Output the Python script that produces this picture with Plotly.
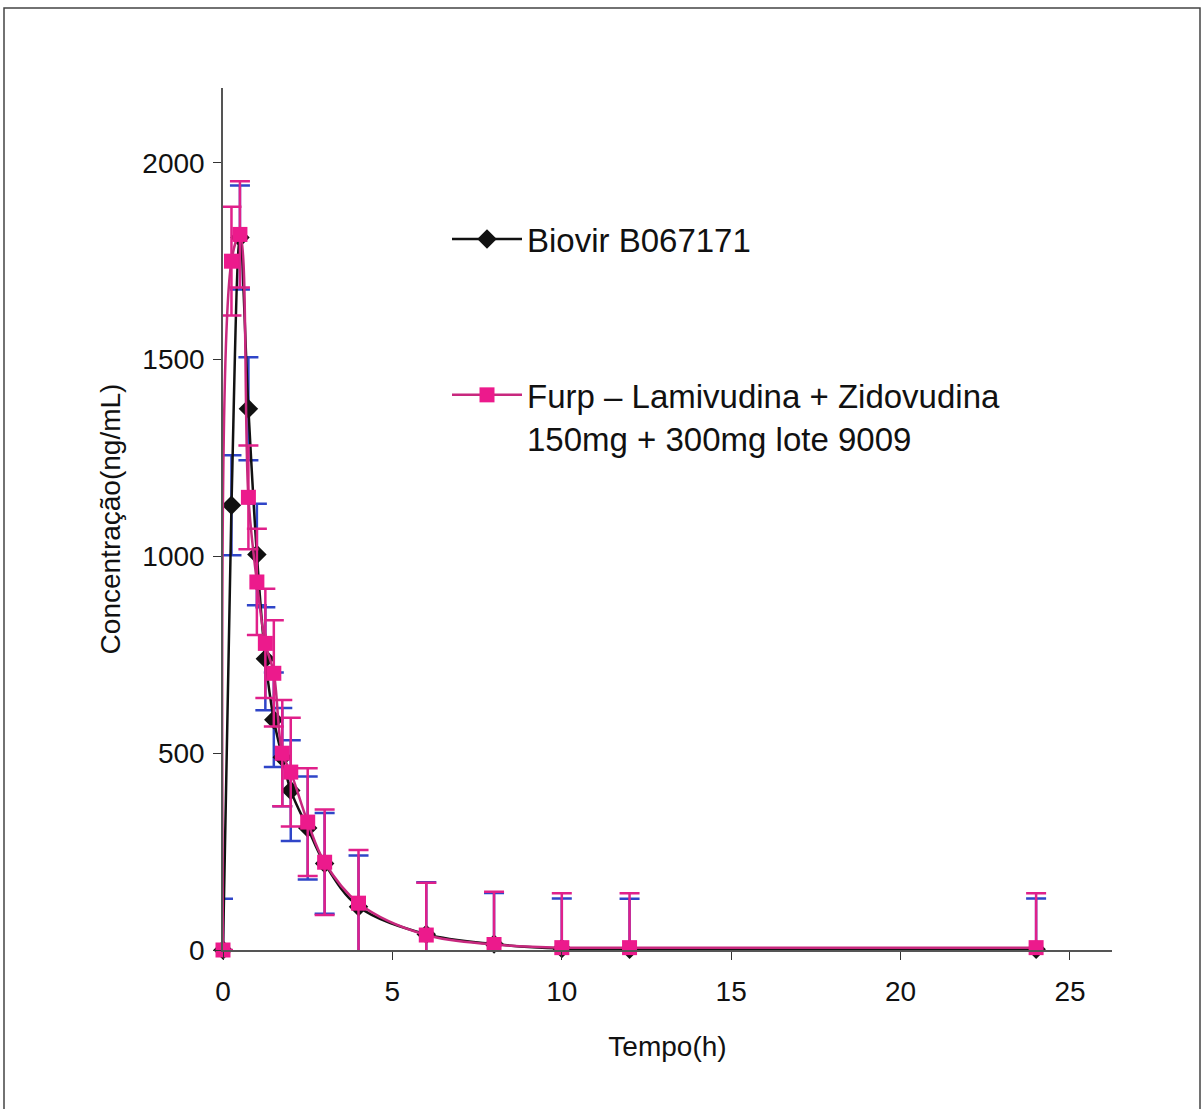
import plotly.graph_objects as go

# Sampling times (h)
tempo = [0, 0.25, 0.5, 0.75, 1, 1.25, 1.5, 1.75, 2, 2.5, 3, 4, 6, 8, 10, 12, 24]

# Mean plasma concentration (ng/mL) and standard deviation per formulation
biovir_media = [0, 1130, 1810, 1375, 1005, 740, 585, 490, 405, 310, 220, 110, 40, 15, 4, 2, 2]
biovir_dp = [130, 127, 132, 131, 129, 131, 120, 125, 128, 131, 128, 130, 132, 130, 127, 128, 129]

furp_media = [0, 1750, 1818, 1150, 935, 779, 703, 500, 452, 325, 223, 119, 38, 14, 6, 6, 6]
furp_dp = [0, 138, 135, 132, 135, 139, 135, 135, 138, 137, 134, 135, 133, 134, 138, 138, 138]

nome_biovir = "Biovir B067171"
nome_furp = "Furp – Lamivudina + Zidovudina<br>150mg + 300mg lote 9009"

x_ticks = [0, 5, 10, 15, 20, 25]
y_ticks = [0, 500, 1000, 1500, 2000]

FONT = "Arial, Liberation Sans, sans-serif"

fig = go.Figure()

fig.add_trace(go.Scatter(
    x=tempo, y=biovir_media, name=nome_biovir, legendgroup="a",
    mode="lines+markers",
    line=dict(color="#111111", width=2.5, shape="spline", smoothing=1),
    marker=dict(symbol="diamond", size=15, color="#111111"),
    error_y=dict(type="data", array=biovir_dp, visible=True,
                 color="#2f45c8", thickness=2.5, width=10),
    cliponaxis=False,
))

fig.add_trace(go.Scatter(
    x=tempo, y=furp_media, name=nome_furp, legendgroup="b",
    mode="lines+markers",
    line=dict(color="#c8287e", width=2.5, shape="spline", smoothing=1),
    marker=dict(symbol="square", size=15, color="#ec1a8c"),
    error_y=dict(type="data", array=furp_dp, visible=True,
                 color="#e0208a", thickness=2.5, width=10),
    cliponaxis=False,
))

# Pixel geometry of the plot area
W, H = 1204, 1109
L, R, T, B = 223, 1112, 88, 950


def px_x(p):
    return (p - L) / (R - L)


def px_y(p):
    return (B - p) / (B - T)


# Outer frame around the whole chart
fig.add_shape(type="rect", xref="paper", yref="paper",
              x0=px_x(4), x1=px_x(1200), y0=px_y(1125), y1=px_y(8),
              line=dict(color="#444444", width=1.5), layer="below")

fig.update_layout(
    width=W, height=H, autosize=False,
    margin=dict(l=L, r=W - R, t=T, b=H - B, pad=0),
    paper_bgcolor="white", plot_bgcolor="white",
    font=dict(family=FONT, color="#111111"),
    showlegend=True,
    legend=dict(
        x=px_x(447), y=px_y(211), xanchor="left", yanchor="top",
        font=dict(size=33, family=FONT, color="#111111"),
        bgcolor="rgba(0,0,0,0)", tracegroupgap=110,
        itemwidth=70, valign="top",
    ),
    xaxis=dict(
        range=[0, 26.24], tickvals=x_ticks, ticks="outside", ticklen=8,
        tickcolor="#333333", showline=True, linecolor="#555555", linewidth=1.5,
        showgrid=False, zeroline=False,
        tickfont=dict(size=28, family=FONT, color="#111111"),
        ticklabelstandoff=8,
        title=dict(text="Tempo(h)", font=dict(size=28, family=FONT, color="#111111"),
                   standoff=30),
    ),
    yaxis=dict(
        range=[0, 2190], tickvals=y_ticks, ticks="outside", ticklen=8,
        tickcolor="#333333", showline=True, linecolor="#555555", linewidth=1.5,
        showgrid=False, zeroline=False,
        tickfont=dict(size=28, family=FONT, color="#111111"),
        ticklabelstandoff=3,
        title=dict(text="Concentração(ng/mL)", font=dict(size=28, family=FONT, color="#111111"),
                   standoff=14),
    ),
)

fig.write_html("out.html")
